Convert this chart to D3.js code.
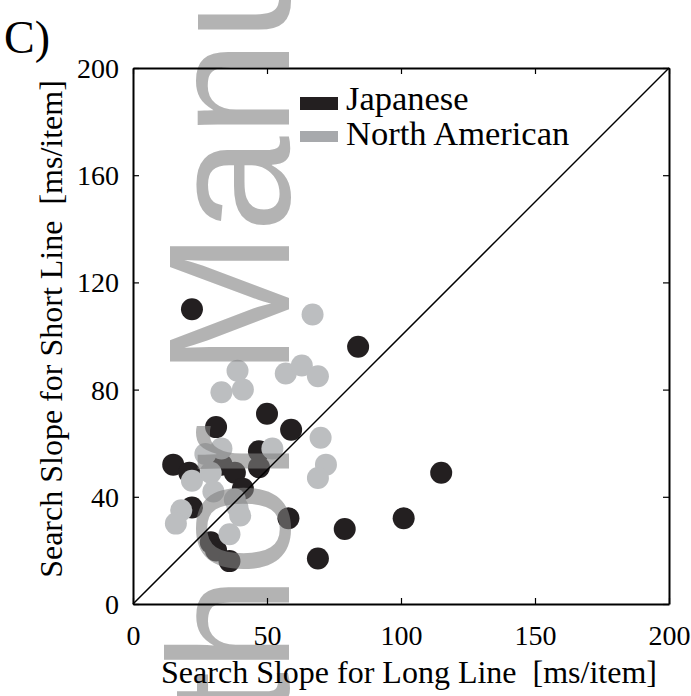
<!DOCTYPE html>
<html>
<head>
<meta charset="utf-8">
<script src="https://cdn.jsdelivr.net/npm/d3@7"></script>
<style>
    body { margin: 0; background: #fff; }
    svg { display: block; }
    text { font-family: "Liberation Serif", "Times New Roman", Times, serif; }
</style>
</head>
<body>
<svg id="chart" width="691" height="696"></svg>
<script>
// search slopes [ms/item], long line vs short line
var japanese_long = [22, 84, 50, 31, 59, 47, 15, 21, 33, 38, 41, 47, 22, 58, 79, 101, 115, 69, 29, 31, 36];
var japanese_short = [110, 96, 71, 66, 65, 57, 52, 49, 52, 49, 43, 51, 36, 32, 28, 32, 49, 17, 23, 20, 16];
var american_long = [67, 39, 33, 41, 57, 63, 69, 70, 72, 69, 27, 33, 52, 22, 29, 30, 38, 18, 16, 39, 40, 36];
var american_short = [108, 87, 79, 80, 86, 89, 85, 62, 52, 47, 56, 58, 58, 46, 49, 42, 39, 35, 30, 36, 33, 26];
var x_ticks = [0, 50, 100, 150, 200];
var y_ticks = [0, 40, 80, 120, 160, 200];
var legend_labels = ["Japanese", "North American"];

var serif = "'Liberation Serif', 'Times New Roman', Times, serif";
var svg = d3.select("#chart");
var black = "#231f20",
    grey = "#bcbec0";

var x = d3.scaleLinear().domain([0, 200]).range([133, 669]);
var y = d3.scaleLinear().domain([0, 200]).range([604, 68]);

var japanese = japanese_long.map(function (d, i) {
    return {x: d, y: japanese_short[i]};
});
var american = american_long.map(function (d, i) {
    return {x: d, y: american_short[i]};
});

// dots, black first then grey on top
svg.append("g")
    .selectAll("circle")
    .data(japanese)
    .enter().append("circle")
    .attr("cx", function (d) { return x(d.x); })
    .attr("cy", function (d) { return y(d.y); })
    .attr("r", 11)
    .attr("fill", black);

svg.append("g")
    .selectAll("circle")
    .data(american)
    .enter().append("circle")
    .attr("cx", function (d) { return x(d.x); })
    .attr("cy", function (d) { return y(d.y); })
    .attr("r", 11)
    .attr("fill", grey);

// manuscript watermark
svg.append("text")
    .attr("transform", "translate(289,930) rotate(-90)")
    .style("font-family", "'Liberation Sans', Arial, sans-serif")
    .style("font-size", "172px")
    .attr("fill", "#808080")
    .attr("fill-opacity", 0.6)
    .text("Author Manuscript");

// identity line
svg.append("line")
    .attr("x1", x(0)).attr("y1", y(0))
    .attr("x2", x(200)).attr("y2", y(200))
    .attr("stroke", "#000")
    .attr("stroke-width", 1.5);

// axes, ticks pointing inward on all four sides
var axis_bottom = d3.axisBottom(x).tickValues(x_ticks).tickSizeInner(-6).tickSizeOuter(0).tickPadding(14);
var axis_top = d3.axisTop(x).tickValues(x_ticks).tickSizeInner(-6).tickSizeOuter(0).tickFormat("");
var axis_left = d3.axisLeft(y).tickValues(y_ticks).tickSizeInner(-6).tickSizeOuter(0).tickPadding(14);
var axis_right = d3.axisRight(y).tickValues(y_ticks).tickSizeInner(-6).tickSizeOuter(0).tickFormat("");

var gb = svg.append("g").attr("transform", "translate(0,604)").call(axis_bottom);
var gt = svg.append("g").attr("transform", "translate(0,68)").call(axis_top);
var gl = svg.append("g").attr("transform", "translate(133,0)").call(axis_left);
var gr = svg.append("g").attr("transform", "translate(669,0)").call(axis_right);

[gb, gt, gl, gr].forEach(function (g) {
    g.attr("font-family", null);
    g.select(".domain").attr("stroke", "#000").attr("stroke-width", 2);
    g.selectAll(".tick line").attr("stroke", "#000").attr("stroke-width", 1.2);
    g.selectAll(".tick text")
        .attr("fill", "#000")
        .style("font-family", serif)
        .style("font-size", "28px");
});
gb.selectAll(".tick text").attr("dy", "0.95em");
gl.selectAll(".tick text").attr("dy", "0.34em");

// axis titles
svg.append("text")
    .attr("x", (x(0) + x(200)) / 2 + 8)
    .attr("y", 683)
    .attr("text-anchor", "middle")
    .style("font-family", serif)
    .style("font-size", "32px")
    .style("white-space", "pre")
    .text("Search Slope for Long Line  [ms/item]");

svg.append("text")
    .attr("transform", "translate(62,329) rotate(-90)")
    .attr("text-anchor", "middle")
    .style("font-family", serif)
    .style("font-size", "32px")
    .style("white-space", "pre")
    .text("Search Slope for Short Line  [ms/item]");

// panel letter
svg.append("text")
    .attr("x", 4)
    .attr("y", 53)
    .style("font-family", serif)
    .style("font-size", "46px")
    .text("C)");

// legend
var legend = svg.append("g");
var legend_colors = [black, "#a7a9ac"];
legend.selectAll("rect")
    .data(legend_labels)
    .enter().append("rect")
    .attr("x", 300)
    .attr("y", function (d, i) { return i == 0 ? 97 : 131; })
    .attr("width", 38)
    .attr("height", function (d, i) { return i == 0 ? 13 : 11; })
    .attr("fill", function (d, i) { return legend_colors[i]; });
legend.selectAll("text")
    .data(legend_labels)
    .enter().append("text")
    .attr("x", 346)
    .attr("y", function (d, i) { return 110 + i * 35; })
    .style("font-family", serif)
    .style("font-size", "34.5px")
    .text(function (d) { return d; });
</script>
</body>
</html>
